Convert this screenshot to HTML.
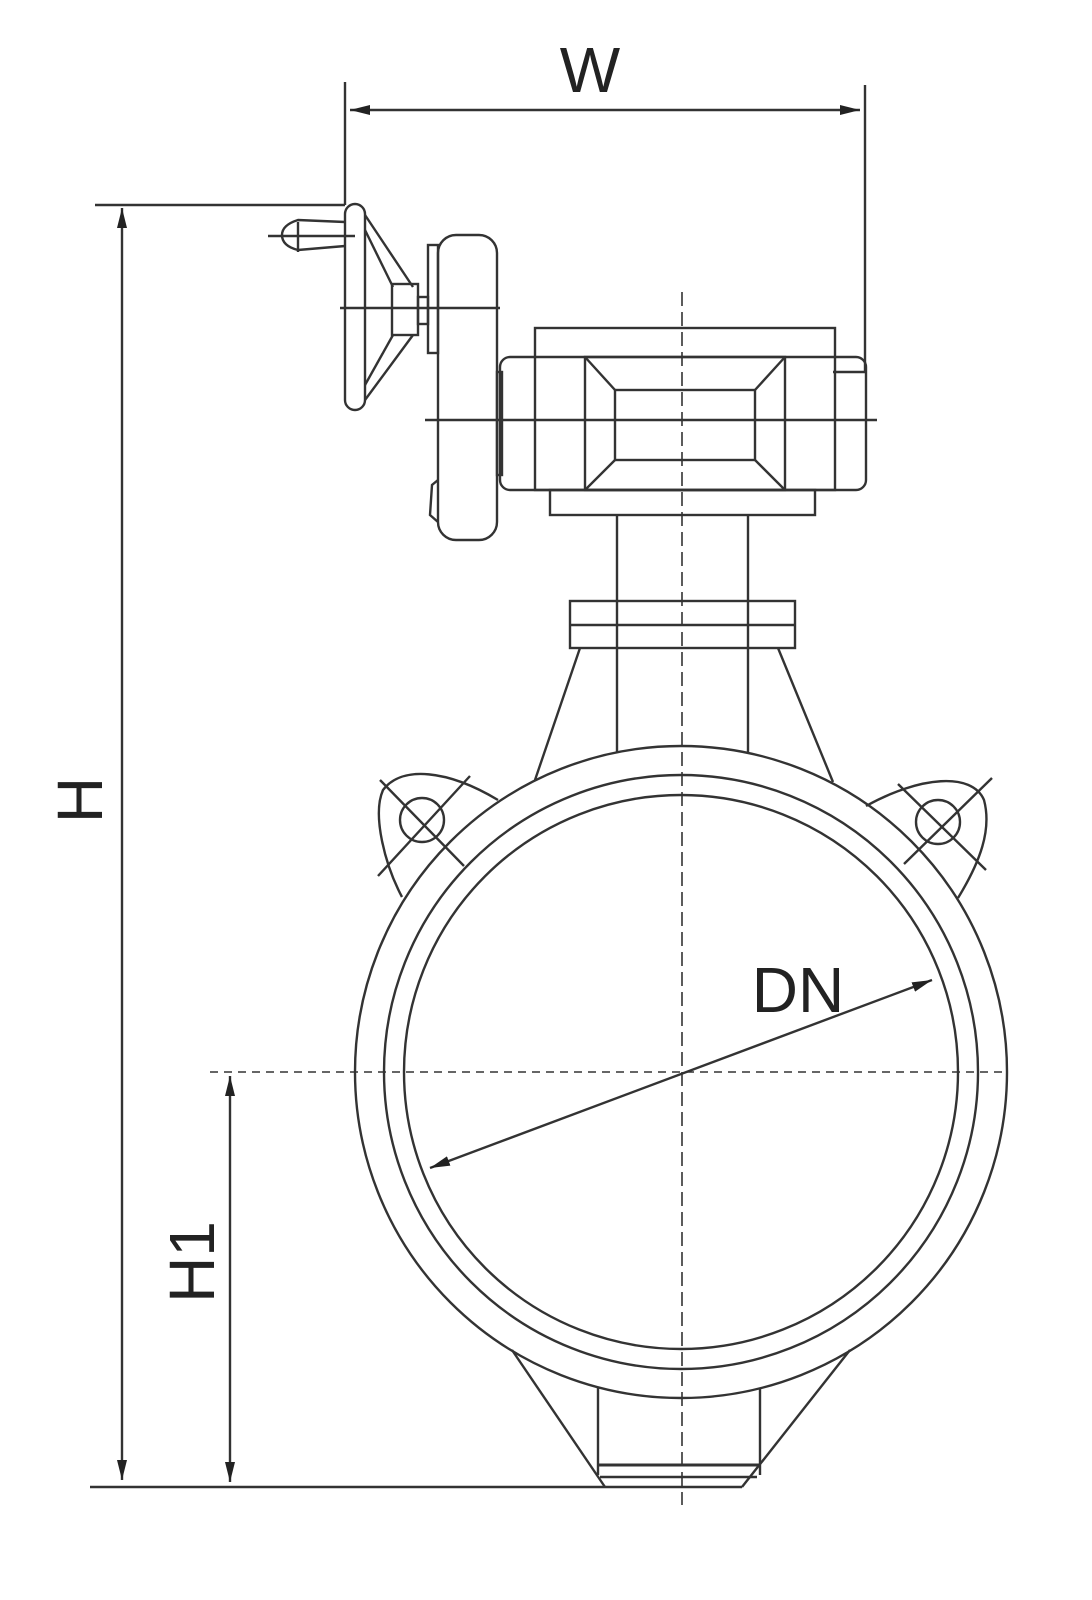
<!DOCTYPE html>
<html><head><meta charset="utf-8"><style>html,body{margin:0;padding:0;background:#fff}svg{display:block}</style></head>
<body>
<svg width="1092" height="1600" viewBox="0 0 1092 1600" xmlns="http://www.w3.org/2000/svg">
<defs>
<marker id="a" viewBox="0 0 20 10" refX="20" refY="5" markerWidth="20" markerHeight="10" markerUnits="userSpaceOnUse" orient="auto-start-reverse"><path d="M0,0 L20,5 L0,10 Z" fill="#222"/></marker>
</defs>
<g stroke="#333" stroke-width="2.4" fill="none">
<line x1="345" y1="82" x2="345" y2="205"/>
<line x1="865" y1="85" x2="865" y2="372"/>
<line x1="350" y1="110" x2="860" y2="110" marker-start="url(#a)" marker-end="url(#a)"/>
<line x1="95" y1="205" x2="345" y2="205"/>
<line x1="122" y1="208" x2="122" y2="1480" marker-start="url(#a)" marker-end="url(#a)"/>
<line x1="90" y1="1487" x2="742" y2="1487"/>
<line x1="210" y1="1072" x2="1005" y2="1072" stroke-dasharray="8,6" stroke-width="1.6"/>
<line x1="230" y1="1076" x2="230" y2="1482" marker-start="url(#a)" marker-end="url(#a)"/>
<line x1="682" y1="292" x2="682" y2="1505" stroke-dasharray="14,6" stroke-width="1.6"/>
<rect x="535" y="328" width="300" height="162"/>
<rect x="500" y="357" width="366" height="133" rx="10"/>
<line x1="833" y1="372" x2="865" y2="372"/>
<rect x="585" y="357" width="200" height="133"/>
<rect x="615" y="390" width="140" height="70"/>
<line x1="585" y1="357" x2="615" y2="390"/><line x1="785" y1="357" x2="755" y2="390"/>
<line x1="585" y1="490" x2="615" y2="460"/><line x1="785" y1="490" x2="755" y2="460"/>
<rect x="550" y="490" width="265" height="25"/>
<line x1="425" y1="420" x2="877" y2="420"/>
<line x1="617" y1="515" x2="617" y2="752"/>
<line x1="748" y1="515" x2="748" y2="752"/>
<rect x="570" y="601" width="225" height="47"/>
<line x1="570" y1="625" x2="795" y2="625"/>
<line x1="580" y1="648" x2="535" y2="780"/>
<line x1="778" y1="648" x2="833" y2="782"/>
<rect x="438" y="235" width="59" height="305" rx="18"/>
<rect x="428" y="245" width="10" height="108"/>
<rect x="497" y="372" width="5" height="103"/>
<path d="M438,480 L432,485 L430,515 L438,522"/>
<line x1="340" y1="308" x2="500" y2="308"/>
<rect x="345" y="204" width="20" height="206" rx="10"/>
<line x1="365" y1="215" x2="413" y2="287"/>
<line x1="365" y1="230" x2="393" y2="287"/>
<line x1="365" y1="400" x2="413" y2="335"/>
<line x1="365" y1="385" x2="393" y2="335"/>
<rect x="392" y="284" width="26" height="51"/>
<rect x="418" y="297" width="10" height="27"/>
<path d="M345,222 L298,220 Q282,225 282,235 Q282,246 298,250 L345,246"/>
<line x1="268" y1="236" x2="355" y2="236"/>
<line x1="298" y1="222" x2="298" y2="252"/>
<circle cx="681" cy="1072" r="326"/>
<circle cx="681" cy="1072" r="297"/>
<circle cx="681" cy="1072" r="277"/>
<path d="M402,897 C385,865 372,815 383,790 C402,765 448,770 498,800"/>
<circle cx="422" cy="820" r="22"/>
<line x1="380" y1="780" x2="464" y2="866"/>
<line x1="378" y1="876" x2="470" y2="776"/>
<path d="M866,806 C920,776 972,772 984,800 C992,830 980,862 958,898"/>
<circle cx="938" cy="822" r="22"/>
<line x1="898" y1="784" x2="986" y2="870"/>
<line x1="904" y1="864" x2="992" y2="778"/>
<line x1="512" y1="1350" x2="605" y2="1487"/>
<line x1="850" y1="1350" x2="742" y2="1487"/>
<line x1="598" y1="1388" x2="598" y2="1475"/>
<line x1="760" y1="1388" x2="760" y2="1475"/>
<line x1="598" y1="1465" x2="760" y2="1465" stroke-width="3"/>
<line x1="600" y1="1477" x2="757" y2="1477"/>
<line x1="430" y1="1168" x2="932" y2="980" marker-start="url(#a)" marker-end="url(#a)"/>
</g>
<g font-family="Liberation Sans, sans-serif" font-size="64" fill="#222">
<text x="590" y="92" text-anchor="middle">W</text>
<text x="798" y="1012" text-anchor="middle">DN</text>
<text transform="translate(102,800) rotate(-90)" text-anchor="middle">H</text>
<text transform="translate(214,1262) rotate(-90)" text-anchor="middle">H1</text>
</g>
</svg>
</body></html>
